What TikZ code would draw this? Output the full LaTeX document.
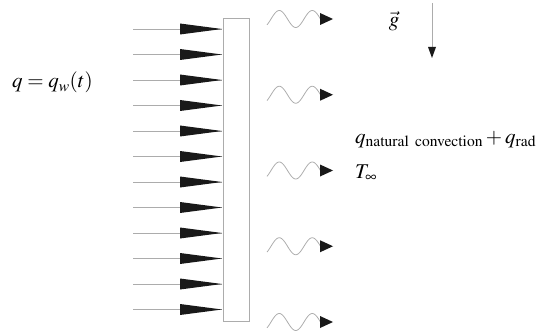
\documentclass[tikz,border=0pt]{standalone}
\usepackage{mathptmx}
\usetikzlibrary{positioning}

\tikzset{
  wall/.style={draw=gray!65, line width=0.8pt},
  flux/.style={draw=gray!65, line width=0.8pt},
  head/.style={fill=black!90, draw=none},
  lbl/.style={anchor=base west, inner sep=0pt, font=\fontsize{21}{25}\selectfont}
}

\begin{document}
\begin{tikzpicture}[x=1pt, y=-1pt]
  \useasboundingbox (0,0) rectangle (545,331);

  % Imposed wall flux
  \foreach \i in {0,...,11}{
    \pgfmathsetmacro{\yy}{29+25.5*\i}
    \coordinate (in\i) at (133,\yy);
    \coordinate (tip\i) at (222,\yy);
    \draw[flux] (in\i) -- (tip\i);
    \fill[head] (180,\yy-5.5) -- (tip\i) -- (180,\yy+5.5) -- cycle;
  }

  % Plate
  \draw[wall, fill=white] (223,18) rectangle (249,321);

  % Heat leaving the plate
  \foreach \k in {0,...,4}{
    \pgfmathsetmacro{\yy}{19+75.75*\k}
    \draw[flux] plot[domain=-0.12:1.5, samples=50, smooth]
      ({271+33*\x},{\yy-8.5*sin(360*\x)});
    \fill[head] (320,\yy-6) -- (333,\yy) -- (320,\yy+6) -- cycle;
  }

  % Gravity
  \coordinate (g top) at (432,3);
  \coordinate (g bot) at (432,58);
  \draw[flux] (g top) -- (432,47);
  \fill[head] (428,47) -- (g bot) -- (436,47) -- cycle;
  \node[lbl, anchor=base] (g) at (394,27) {$\vec{g}$};

  % Labels
  \node[lbl] (qw) at (12,88) {$q = q_w(t)$};
  \node[lbl] (qout) at (355,143) {$q_{\mathrm{natural\ convection}} + q_{\mathrm{rad}}$};
  \node[lbl] (Tinf) at (355,178) {$T_\infty$};
\end{tikzpicture}
\end{document}
